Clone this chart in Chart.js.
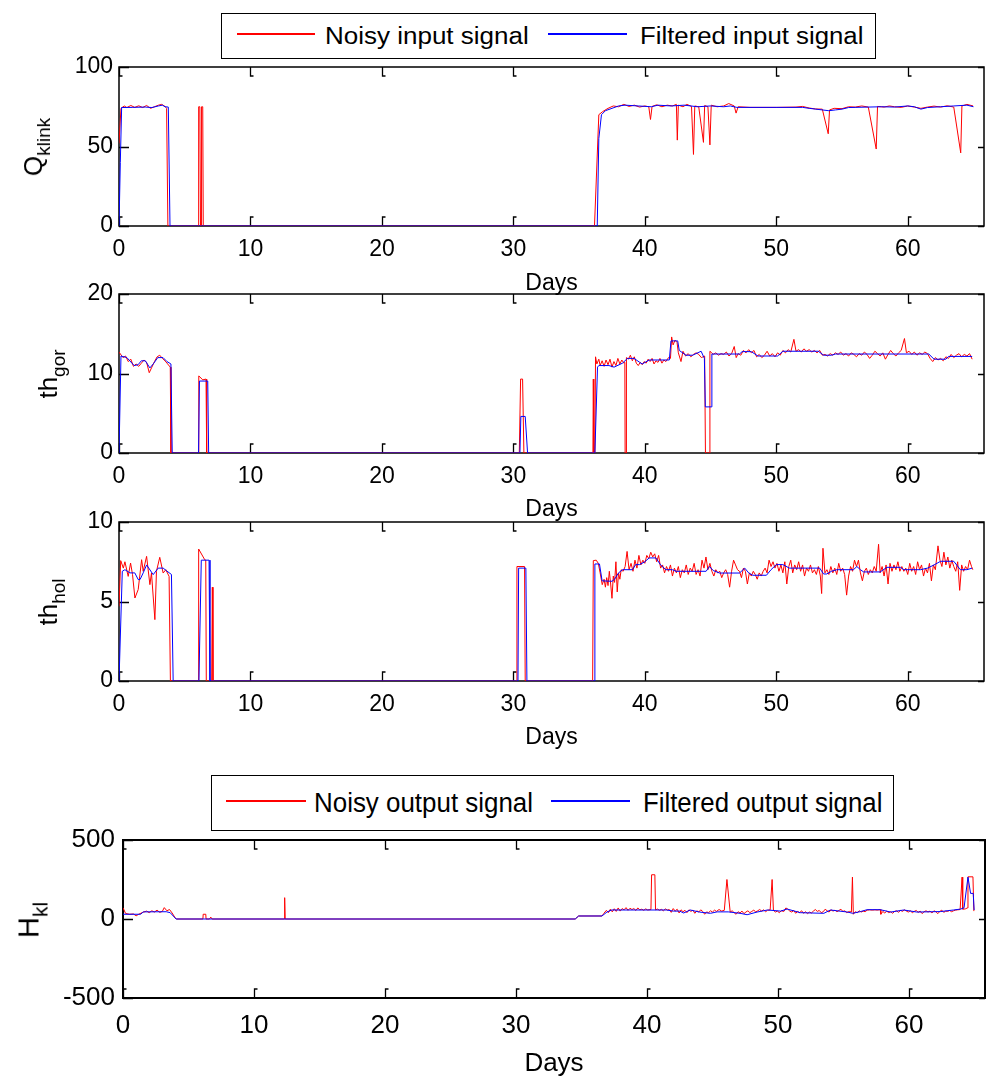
<!DOCTYPE html>
<html>
<head>
<meta charset="utf-8">
<script src="https://cdn.jsdelivr.net/npm/chart.js@4.4.1/dist/chart.umd.min.js"></script>
<style>
  body { margin: 0; background: #fff; width: 986px; height: 1079px; position: relative; overflow: hidden;
         font-family: 'Liberation Sans', Arial, sans-serif; color: #000; }
  canvas.panel { position: absolute; left: 0; }
  .ylab { position: absolute; white-space: nowrap; line-height: 1; transform: translate(-50%, -50%) rotate(-90deg); }
  .ylab .sub { position: relative; }
  .legend { position: absolute; border: 1.5px solid #000; background: #fff; box-sizing: border-box; }
  .sample { position: absolute; height: 1.5px; }
  .ltxt { position: absolute; white-space: nowrap; line-height: 1; transform-origin: 0 0; }
</style>
</head>
<body>

<div class="legend" style="left:221px; top:13px; width:655px; height:46px;"></div>
<div class="sample" style="left:237px; top:33px; width:78px; background:#ff0000;"></div>
<div class="ltxt" style="left:325px; top:25px; font-size:23px; transform:scaleX(1.13);">Noisy input signal</div>
<div class="sample" style="left:548px; top:33px; width:79px; background:#0000ff;"></div>
<div class="ltxt" style="left:640px; top:25px; font-size:23px; transform:scaleX(1.12);">Filtered input signal</div>

<div class="legend" style="left:211px; top:775px; width:683px; height:56px;"></div>
<div class="sample" style="left:226px; top:800px; width:80px; background:#ff0000;"></div>
<div class="ltxt" style="left:314px; top:790px; font-size:27px; transform:scaleX(0.96);">Noisy output signal</div>
<div class="sample" style="left:551px; top:800px; width:79px; background:#0000ff;"></div>
<div class="ltxt" style="left:643px; top:790px; font-size:27px; transform:scaleX(0.955);">Filtered output signal</div>

<canvas class="panel" id="pQ" width="986" height="250" style="top:47px;"></canvas>
<canvas class="panel" id="pGor" width="986" height="249" style="top:274px;"></canvas>
<canvas class="panel" id="pHol" width="986" height="249" style="top:502px;"></canvas>
<canvas class="panel" id="pH" width="986" height="264" style="top:815px;"></canvas>

<div class="ylab" style="left:33px; top:147px; font-size:26px;">Q<span class="sub" style="font-size:19px; top:8px;">klink</span></div>
<div class="ylab" style="left:48px; top:374px; font-size:26px;">th<span class="sub" style="font-size:19px; top:8px;">gor</span></div>
<div class="ylab" style="left:48px; top:602px; font-size:26px;">th<span class="sub" style="font-size:19px; top:8px;">hol</span></div>
<div class="ylab" style="left:29px; top:920px; font-size:29px;">H<span class="sub" style="font-size:21px; top:9px;">kl</span></div>

<script>
const FONT = "'Liberation Sans', Arial, sans-serif";

// ticks
const xTicks = [0, 10, 20, 30, 40, 50, 60];
const xMax = 65.8;
const qTicks = [0, 50, 100];
const gorTicks = [0, 10, 20];
const holTicks = [0, 5, 10];
const hTicks = [-500, 0, 500];

// Q klink  [day, value]
const qFiltered = [[0,0],[0.1,40],[0.2,74.5],[1,74.6],[2,74.8],[2.5,74.5],[3,75.5],[3.3,76],[3.5,75],[3.75,74.8],[3.88,0],
  [36.38,0],[36.5,55],[36.7,70],[37,72.5],[37.5,74],[38,75.5],[38.5,76],[39.5,75.5],[40.5,75],[41,76],[42,75.5],[43,76],
  [44,75],[45,75.5],[46,75],[46.5,75.5],[47,74.6],[52,74.6],[52.5,74],[53,73.5],[53.5,73],[54,72.5],[54.5,73],[55,73.5],
  [55.5,74.5],[56,74.6],[58,75],[59,74.8],[60,75.5],[60.5,75],[61,73.5],[61.5,74.5],[62.5,75],[63.5,75.5],[64.5,76],[65,75]];
const qNoisy = [[0,52],[0.15,74],[0.4,75.5],[0.6,74.5],[0.9,75.8],[1.2,74.6],[1.5,75.6],[1.8,74.5],[2.1,75.8],[2.4,74],
  [2.7,75],[3,76],[3.25,76.5],[3.5,75.2],[3.62,74],[3.72,0],[6.02,0],[6.06,75],[6.15,75],[6.2,0],[6.24,0],[6.28,75],[6.37,75],[6.41,0],
  [36.17,0],[36.5,70],[36.8,72],[37.2,74],[37.6,75.5],[38,75],[38.4,76.5],[38.8,75.2],[39.2,76],[39.6,74.8],[40,75.5],[40.3,75],
  [40.43,67],[40.55,75.2],[40.9,76.2],[41.3,75],[41.7,76],[42.1,75.5],[42.4,76.5],[42.47,54],[42.55,76],[42.9,75],[43.2,76.5],
  [43.55,75.2],[43.7,45],[43.8,75.5],[44.1,75],[44.46,52.6],[44.55,75.8],[44.8,75],[44.95,51],[45.05,76],[45.5,75],[46,75.5],
  [46.38,77],[46.8,75.5],[46.94,71],[47.1,75],[48,74.6],[50,74.6],[51.5,74.8],[52,75.2],[52.5,74.2],[53,73.6],[53.5,73.5],
  [53.95,58],[54.05,73],[54.4,74],[55,73.8],[55.5,75],[56,74.8],[56.5,75.5],[57,74.8],[57.6,48.4],[57.7,75.2],[58.2,74.8],
  [58.6,75.5],[59,75],[59.5,74.6],[60,75.5],[60.5,74.8],[61,74],[61.5,74.8],[62,75.4],[62.5,74.8],[63,75.6],[63.5,74.8],
  [64.03,46],[64.12,75.5],[64.5,76.5],[64.97,75.5]];

// th gor
const gorFiltered = [[0,0],[0.15,12.2],[0.6,12.0],[1.15,11.0],[1.45,11.1],[1.7,11.6],[2.0,11.6],[2.35,10.7],[2.65,11.3],
  [2.95,12.0],[3.35,12.0],[3.65,11.5],[3.95,11.2],[4.05,0],[6.05,0],[6.12,9.05],[6.75,9.05],[6.82,0],[30.5,0],[30.57,4.6],
  [30.9,4.6],[31.08,0],[36.2,0],[36.4,10.8],[36.5,11.0],[37.27,11.0],[37.66,10.8],[38.3,11.3],[38.68,11.9],[39.18,11.9],
  [39.57,11.45],[39.8,11.2],[40.33,11.7],[41.86,11.7],[41.99,14.1],[42.5,14.1],[42.62,12.9],[43.13,12.3],[43.64,12.3],
  [44.28,12.8],[44.53,11.9],[44.6,5.8],[45.04,5.8],[45.1,12.45],[47.2,12.45],[47.4,12.75],[48.1,12.75],[48.6,12.2],
  [50.1,12.2],[50.5,12.8],[53.2,12.8],[53.6,12.3],[54.2,12.3],[54.5,12.45],[61.6,12.45],[62.0,11.8],[62.9,11.8],
  [63.1,12.15],[64.9,12.15]];
const gorNoisy = [[0,12.7],[0.3,12.0],[0.5,12.2],[0.7,11.5],[0.9,11.8],[1.1,10.9],[1.3,11.2],[1.5,10.9],[1.7,11.3],[1.9,11.7],
  [2.1,11.4],[2.3,10.1],[2.5,10.8],[2.7,11.5],[2.9,12.1],[3.1,12.3],[3.3,11.9],[3.5,11.6],[3.7,11.2],[3.9,10.8],[3.95,0],
  [6.03,0],[6.07,9.7],[6.37,9.2],[6.62,9.3],[6.67,0],[30.45,0],[30.55,9.3],[30.7,9.3],[30.8,0],[36.05,0],[36.08,9.3],[36.12,0],
  [36.2,0],[36.25,12.1],[36.35,11.2],[36.5,11.8],[36.6,11.0],[36.75,11.6],[36.9,10.9],[37.05,11.7],[37.2,11.1],[37.35,11.8],
  [37.5,10.8],[37.65,11.5],[37.8,11.0],[37.95,11.9],[38.1,11.2],[38.25,11.7],[38.4,11.3],[38.48,11.4],[38.5,0],[38.57,0],
  [38.6,12.0],[38.75,11.8],[38.9,12.3],[39.05,11.6],[39.2,12.1],[39.35,11.3],[39.5,11.0],[39.65,11.4],[39.8,11.1],[39.95,11.5],
  [40.1,11.3],[40.25,11.8],[40.4,11.5],[40.55,11.9],[40.7,11.2],[40.85,11.6],[41.0,11.4],[41.15,11.9],[41.3,11.3],[41.45,11.7],
  [41.6,11.5],[41.8,12.0],[41.95,11.9],[42.04,14.6],[42.15,13.6],[42.3,14.2],[42.45,13.9],[42.55,12.6],[42.75,11.5],[42.9,12.8],
  [43.1,12.2],[43.3,12.5],[43.5,12.1],[43.7,12.4],[43.9,12.6],[44.1,12.4],[44.3,12.0],[44.55,12.2],[44.61,0],[44.9,0],
  [44.95,12.8],[45.2,12.4],[45.4,12.6],[45.6,12.3],[45.8,12.5],[46.0,12.4],[46.2,12.7],[46.4,12.2],[46.6,12.5],[46.8,13.4],
  [46.95,12.0],[47.1,12.5],[47.3,12.3],[47.5,12.9],[47.7,12.6],[47.9,13.0],[48.1,12.6],[48.3,12.9],[48.5,12.1],[48.7,12.4],
  [48.9,12.0],[49.1,12.3],[49.3,12.8],[49.5,12.2],[49.7,12.5],[49.9,12.1],[50.1,12.6],[50.3,12.3],[50.5,12.9],[50.7,12.6],
  [50.9,13.0],[51.1,12.7],[51.34,14.3],[51.5,12.8],[51.7,13.0],[51.9,12.7],[52.1,13.1],[52.3,12.8],[52.5,13.0],[52.7,12.7],
  [52.9,12.9],[53.1,12.6],[53.3,12.9],[53.5,12.3],[53.7,12.4],[53.9,12.2],[54.1,12.5],[54.3,12.3],[54.5,12.6],[54.7,12.4],
  [54.9,12.7],[55.1,12.3],[55.3,12.5],[55.5,12.2],[55.7,12.6],[55.9,12.4],[56.1,12.1],[56.3,12.5],[56.5,12.3],[56.7,12.7],
  [56.9,12.4],[57.1,11.9],[57.3,12.3],[57.5,12.8],[57.7,12.5],[57.9,12.2],[58.1,12.6],[58.3,11.8],[58.5,12.4],[58.7,12.9],
  [58.9,12.5],[59.1,12.2],[59.3,12.6],[59.5,12.9],[59.75,14.4],[59.9,12.6],[60.1,12.8],[60.3,12.4],[60.5,12.7],[60.7,12.3],
  [60.9,12.6],[61.1,12.4],[61.3,12.7],[61.5,12.5],[61.7,11.9],[61.9,11.5],[62.1,12.0],[62.3,11.7],[62.5,11.9],[62.7,11.6],
  [62.9,12.1],[63.1,11.9],[63.3,12.4],[63.5,12.0],[63.7,12.3],[63.9,12.5],[64.1,12.1],[64.3,12.4],[64.5,12.2],[64.7,12.5],
  [64.9,11.8]];

// th hol
const holFiltered = [[0,0],[0.25,6.9],[0.45,7.0],[0.83,6.8],[1.2,6.8],[1.46,6.38],[1.6,6.38],[1.84,6.8],[2.1,7.3],[2.6,6.69],
  [2.98,7.1],[3.36,7.1],[3.6,6.94],[3.99,6.7],[4.12,0],[6.08,0],[6.26,7.6],[6.85,7.6],[6.92,0],[30.35,0],[30.4,7.1],
  [30.95,7.1],[31.03,0],[36.15,0],[36.2,7.36],[36.55,7.36],[36.75,6.3],[37.5,6.27],[37.7,6.4],[38.0,6.8],[38.3,7.0],
  [39.06,7.0],[39.3,7.32],[39.6,7.32],[40.0,7.5],[40.33,7.74],[40.84,7.74],[41.2,7.3],[41.6,7.0],[42.1,7.0],[42.37,6.9],
  [44.66,6.9],[44.92,7.2],[45.2,6.95],[45.68,6.79],[47.2,6.79],[47.6,7.1],[47.9,6.8],[48.2,6.65],[49.25,6.65],[49.6,7.0],
  [50.0,7.32],[50.5,7.32],[51.0,7.1],[53.3,7.1],[53.6,6.73],[53.83,6.73],[54.2,6.9],[54.6,7.0],[55.87,7.0],[56.13,7.2],
  [56.4,7.0],[56.64,6.86],[57.9,6.86],[58.42,7.15],[59.44,7.15],[59.7,7.0],[60.97,7.0],[61.5,7.1],[62.0,7.3],[62.5,7.53],
  [63.5,7.53],[64.0,7.0],[64.5,7.0],[64.9,7.1]];
const holNoisy = [[0,4.7],[0.13,7.57],[0.33,7.1],[0.45,7.5],[0.7,6.58],[0.88,7.42],[1.03,6.69],[1.21,5.22],[1.46,5.75],
  [1.72,7.63],[1.84,6.9],[2.1,7.84],[2.35,6.06],[2.47,6.79],[2.73,3.86],[2.85,6.9],[3.1,7.78],[3.36,6.79],[3.56,7.0],
  [3.81,6.58],[3.91,0],[6.03,0],[6.06,8.3],[6.52,7.63],[6.6,7.6],[6.64,0],[7.05,0],[7.1,5.9],[7.15,0],[30.22,0],[30.27,7.2],
  [30.85,7.2],[30.9,0],[36.03,0],[36.08,7.57],[36.3,7.6],[36.46,7.4],[36.6,6.8],[36.76,6.06],[36.9,6.4],[37.0,5.9],[37.1,6.5],
  [37.2,6.0],[37.3,6.9],[37.4,6.1],[37.5,5.2],[37.6,6.6],[37.7,6.2],[37.8,7.5],[37.9,5.6],[38.0,6.8],[38.1,6.4],[38.2,7.0],
  [38.35,6.9],[38.5,7.2],[38.65,8.15],[38.8,7.0],[38.95,7.4],[39.1,6.9],[39.25,7.6],[39.4,7.1],[39.55,7.9],[39.7,7.3],
  [39.85,7.6],[40.0,7.4],[40.15,7.9],[40.3,7.7],[40.45,8.1],[40.6,7.8],[40.75,8.0],[40.9,7.5],[41.05,7.9],[41.2,7.1],
  [41.35,7.3],[41.5,6.8],[41.65,7.2],[41.8,6.9],[41.95,7.3],[42.1,6.6],[42.25,7.1],[42.4,6.8],[42.55,7.2],[42.7,6.5],
  [42.85,7.0],[43.0,6.8],[43.15,7.3],[43.3,6.7],[43.45,7.1],[43.6,6.9],[43.75,7.4],[43.9,6.7],[44.05,7.0],[44.2,6.6],
  [44.35,7.6],[44.5,7.1],[44.65,7.8],[44.8,7.0],[44.95,7.4],[45.1,6.9],[45.25,6.6],[45.4,7.0],[45.55,6.8],[45.7,6.9],
  [45.85,6.5],[46.0,6.8],[46.15,7.0],[46.3,6.7],[46.45,5.9],[46.6,6.9],[46.75,7.6],[46.9,7.3],[47.05,7.0],[47.2,6.9],
  [47.35,6.5],[47.5,7.1],[47.65,6.9],[47.8,6.1],[47.95,6.8],[48.1,6.6],[48.25,6.9],[48.4,6.7],[48.55,6.4],[48.7,6.8],
  [48.85,6.6],[49.0,6.9],[49.15,7.1],[49.3,6.8],[49.45,7.6],[49.6,7.2],[49.75,7.5],[49.9,7.1],[50.05,7.4],[50.2,6.9],
  [50.35,7.3],[50.5,6.8],[50.65,7.5],[50.8,6.1],[50.95,7.2],[51.1,7.6],[51.25,6.8],[51.4,7.3],[51.55,7.0],[51.7,7.5],
  [51.85,6.9],[52.0,7.3],[52.15,6.6],[52.3,7.1],[52.45,6.9],[52.6,7.3],[52.75,6.8],[52.9,7.0],[53.05,6.7],[53.2,7.2],
  [53.35,6.6],[53.45,5.5],[53.55,8.35],[53.7,6.8],[53.85,7.0],[54.0,6.7],[54.15,7.2],[54.3,6.8],[54.45,7.1],[54.6,6.7],
  [54.75,7.4],[54.9,6.9],[55.05,7.1],[55.2,6.7],[55.35,5.4],[55.5,6.6],[55.65,7.2],[55.8,6.9],[55.95,7.6],[56.1,7.2],
  [56.25,7.6],[56.4,6.8],[56.55,6.3],[56.7,6.9],[56.85,7.1],[57.0,6.7],[57.15,7.0],[57.3,6.8],[57.45,7.2],[57.6,6.9],
  [57.78,8.6],[57.9,6.8],[58.05,7.2],[58.2,6.6],[58.35,7.3],[58.5,6.1],[58.65,7.4],[58.8,6.9],[58.95,7.3],[59.1,7.0],
  [59.25,7.5],[59.4,6.9],[59.55,7.2],[59.7,6.9],[59.85,7.1],[60.0,6.7],[60.15,7.4],[60.3,6.9],[60.45,7.2],[60.6,6.7],
  [60.75,7.5],[60.9,7.0],[61.05,7.3],[61.2,6.6],[61.35,7.1],[61.5,6.8],[61.65,7.4],[61.8,6.3],[61.95,7.3],[62.1,7.0],
  [62.3,8.5],[62.45,7.6],[62.6,7.2],[62.75,8.1],[62.9,7.3],[63.05,7.8],[63.2,7.1],[63.35,7.6],[63.5,7.2],[63.65,6.9],
  [63.8,7.5],[63.95,5.7],[64.1,7.3],[64.25,6.9],[64.4,7.2],[64.55,7.0],[64.7,7.6],[64.85,7.2],[64.95,7.0]];

// H kl
const hFiltered = [[0,30],[1.35,30],[1.55,45],[3.3,46],[3.6,40],[4.05,0],[34.52,0],[34.78,19],[36.56,19],[36.94,44],
  [37.3,57],[41.5,57],[42.0,50],[42.5,50],[42.8,38],[43.3,57],[44.0,44],[44.84,36],[45.35,45],[46.2,45],[47.1,36],
  [47.64,27],[48.4,44],[49.2,57],[50.2,50],[50.7,63],[51.7,40],[53.5,36],[54.0,57],[55.3,44],[55.7,36],[56.3,47],
  [56.8,59],[57.8,59],[58.6,44],[59.6,57],[60.6,44],[62.4,47],[63.4,57],[63.95,63],[64.2,71],[64.5,265],[64.7,162],
  [64.9,162],[64.97,57]];
const hNoisy = [[0,71],[0.2,35],[0.5,30],[0.8,32],[1.0,20],[1.2,30],[1.5,42],[1.8,50],[2.0,40],[2.2,52],[2.4,44],[2.6,56],
  [2.8,42],[3.0,48],[3.15,72],[3.35,52],[3.55,60],[3.75,38],[4.0,5],[4.1,0],[6.1,0],[6.12,30],[6.32,30],[6.34,0],[6.6,0],
  [6.7,12],[6.8,0],[12.3,0],[12.34,135],[12.38,0],[34.52,0],[34.78,19],[36.56,19],[36.7,35],[36.9,55],[37.05,40],[37.2,62],
  [37.35,45],[37.5,65],[37.65,48],[37.8,70],[37.95,50],[38.1,66],[38.25,58],[38.4,72],[38.55,55],[38.7,68],[38.85,60],
  [39.0,66],[39.15,54],[39.3,70],[39.45,58],[39.6,62],[39.75,55],[39.9,64],[40.05,57],[40.3,60],[40.35,280],[40.6,280],
  [40.65,58],[40.8,63],[40.95,55],[41.1,61],[41.25,52],[41.4,64],[41.55,56],[41.7,60],[41.85,42],[42.0,66],[42.15,50],
  [42.3,62],[42.45,38],[42.6,58],[42.75,46],[42.9,55],[43.05,40],[43.2,58],[43.35,48],[43.5,56],[43.65,36],[43.8,52],
  [43.95,44],[44.1,58],[44.25,48],[44.4,30],[44.55,45],[44.7,40],[44.85,52],[45.0,44],[45.15,56],[45.3,48],[45.5,60],
  [45.7,50],[45.9,55],[46.1,250],[46.35,44],[46.5,52],[46.65,40],[46.8,30],[46.95,46],[47.1,38],[47.25,50],[47.4,34],
  [47.55,44],[47.7,52],[47.85,40],[48.0,48],[48.15,56],[48.3,45],[48.45,52],[48.6,60],[48.75,50],[48.9,58],[49.05,46],
  [49.2,55],[49.4,58],[49.55,250],[49.65,55],[49.8,44],[49.95,50],[50.1,40],[50.25,52],[50.45,48],[50.6,70],[50.75,62],
  [50.9,50],[51.05,44],[51.2,54],[51.35,36],[51.5,48],[51.65,40],[51.8,52],[51.95,36],[52.1,46],[52.25,34],[52.4,44],
  [52.55,38],[52.7,50],[52.85,60],[53.0,48],[53.15,54],[53.3,40],[53.45,46],[53.6,62],[53.75,52],[53.9,44],[54.05,58],
  [54.2,50],[54.35,56],[54.5,46],[54.65,54],[54.8,62],[54.95,48],[55.1,52],[55.25,40],[55.45,48],[55.6,44],[55.68,265],
  [55.75,30],[55.9,46],[56.05,40],[56.2,52],[56.35,44],[56.5,50],[56.65,46],[56.8,56],[57.0,58],[57.2,56],[57.4,58],
  [57.6,56],[57.8,60],[57.85,30],[58.0,48],[58.15,38],[58.3,50],[58.45,40],[58.6,46],[58.75,36],[58.9,48],[59.05,52],
  [59.2,42],[59.35,55],[59.5,48],[59.65,58],[59.8,50],[59.95,44],[60.1,52],[60.25,40],[60.4,48],[60.55,54],[60.7,42],
  [60.85,50],[61.0,34],[61.15,46],[61.3,52],[61.45,44],[61.6,50],[61.75,38],[61.9,52],[62.05,46],[62.2,34],[62.35,48],
  [62.5,56],[62.65,42],[62.8,50],[62.95,48],[63.1,54],[63.25,46],[63.4,52],[63.55,56],[63.7,58],[63.9,60],[64.05,265],
  [64.1,62],[64.3,64],[64.45,70],[64.5,267],[64.88,267],[64.95,50]];

const toPoints = arr => arr.map(([x, y]) => ({ x, y }));

// box + inward MATLAB-style ticks, drawn under the lines
const frameTicks = {
  id: 'frameTicks',
  beforeDatasetsDraw(chart, args, opts) {
    const { ctx, chartArea: a, scales } = chart;
    ctx.save();
    ctx.strokeStyle = '#000';
    ctx.lineWidth = opts.width;
    ctx.strokeRect(a.left, a.top, a.right - a.left, a.bottom - a.top);
    ctx.lineWidth = 1.3;
    ctx.beginPath();
    scales.x.ticks.forEach(t => {
      const px = Math.round(scales.x.getPixelForValue(t.value)) + 0.5;
      ctx.moveTo(px, a.bottom); ctx.lineTo(px, a.bottom - 9); ctx.lineTo(px + 3, a.bottom - 9);
      ctx.moveTo(px, a.top); ctx.lineTo(px, a.top + 9); ctx.lineTo(px + 3, a.top + 9);
    });
    scales.y.ticks.forEach(t => {
      const py = Math.round(scales.y.getPixelForValue(t.value)) + 0.5;
      ctx.moveTo(a.left, py); ctx.lineTo(a.left + 10, py);
      ctx.moveTo(a.right, py); ctx.lineTo(a.right - 6, py);
    });
    ctx.stroke();
    ctx.restore();
  }
};

function makePanel(id, p) {
  const canvas = document.getElementById(id);
  return new Chart(canvas, {
    type: 'line',
    data: {
      datasets: [
        { label: 'Filtered', data: toPoints(p.filtered), borderColor: '#0000ff', borderWidth: 1, pointRadius: 0, tension: 0 },
        { label: 'Noisy', data: toPoints(p.noisy), borderColor: '#ff0000', borderWidth: 1, pointRadius: 0, tension: 0 }
      ]
    },
    options: {
      responsive: false,
      animation: false,
      devicePixelRatio: 1,
      events: [],
      layout: { padding: { top: p.padTop, right: p.padRight, left: 0, bottom: 0 } },
      plugins: {
        legend: { display: false },
        tooltip: { enabled: false },
        frameTicks: { width: p.frame }
      },
      scales: {
        x: {
          type: 'linear', min: 0, max: xMax,
          afterBuildTicks: s => { s.ticks = xTicks.map(v => ({ value: v })); },
          afterFit: s => { s.height = p.xHeight; },
          grid: { display: false, drawTicks: false },
          border: { display: false },
          ticks: { color: '#000', font: { family: FONT, size: p.fs }, padding: p.xPad, maxRotation: 0, autoSkip: false },
          title: { display: true, text: 'Days', color: '#000', font: { family: FONT, size: p.fs }, padding: 0 }
        },
        y: {
          type: 'linear', min: p.yTicks[0], max: p.yTicks[p.yTicks.length - 1],
          afterBuildTicks: s => { s.ticks = p.yTicks.map(v => ({ value: v })); },
          afterFit: s => { s.width = p.yWidth; },
          grid: { display: false, drawTicks: false },
          border: { display: false },
          ticks: { color: '#000', font: { family: FONT, size: p.fs }, padding: p.yPad }
        }
      }
    },
    plugins: [frameTicks]
  });
}

makePanel('pQ',   { filtered: qFiltered,   noisy: qNoisy,   yTicks: qTicks,   padTop: 20, padRight: 2, xHeight: 71, yWidth: 119, fs: 23, xPad: 10, yPad: 6, frame: 1.5 });
makePanel('pGor', { filtered: gorFiltered, noisy: gorNoisy, yTicks: gorTicks, padTop: 20, padRight: 2, xHeight: 70, yWidth: 119, fs: 23, xPad: 10, yPad: 6, frame: 1.5 });
makePanel('pHol', { filtered: holFiltered, noisy: holNoisy, yTicks: holTicks, padTop: 20, padRight: 2, xHeight: 70, yWidth: 119, fs: 23, xPad: 10, yPad: 6, frame: 1.5 });
makePanel('pH',   { filtered: hFiltered,   noisy: hNoisy,   yTicks: hTicks,   padTop: 25, padRight: 1, xHeight: 81, yWidth: 123, fs: 26, xPad: 12, yPad: 8, frame: 2 });
</script>
</body>
</html>
